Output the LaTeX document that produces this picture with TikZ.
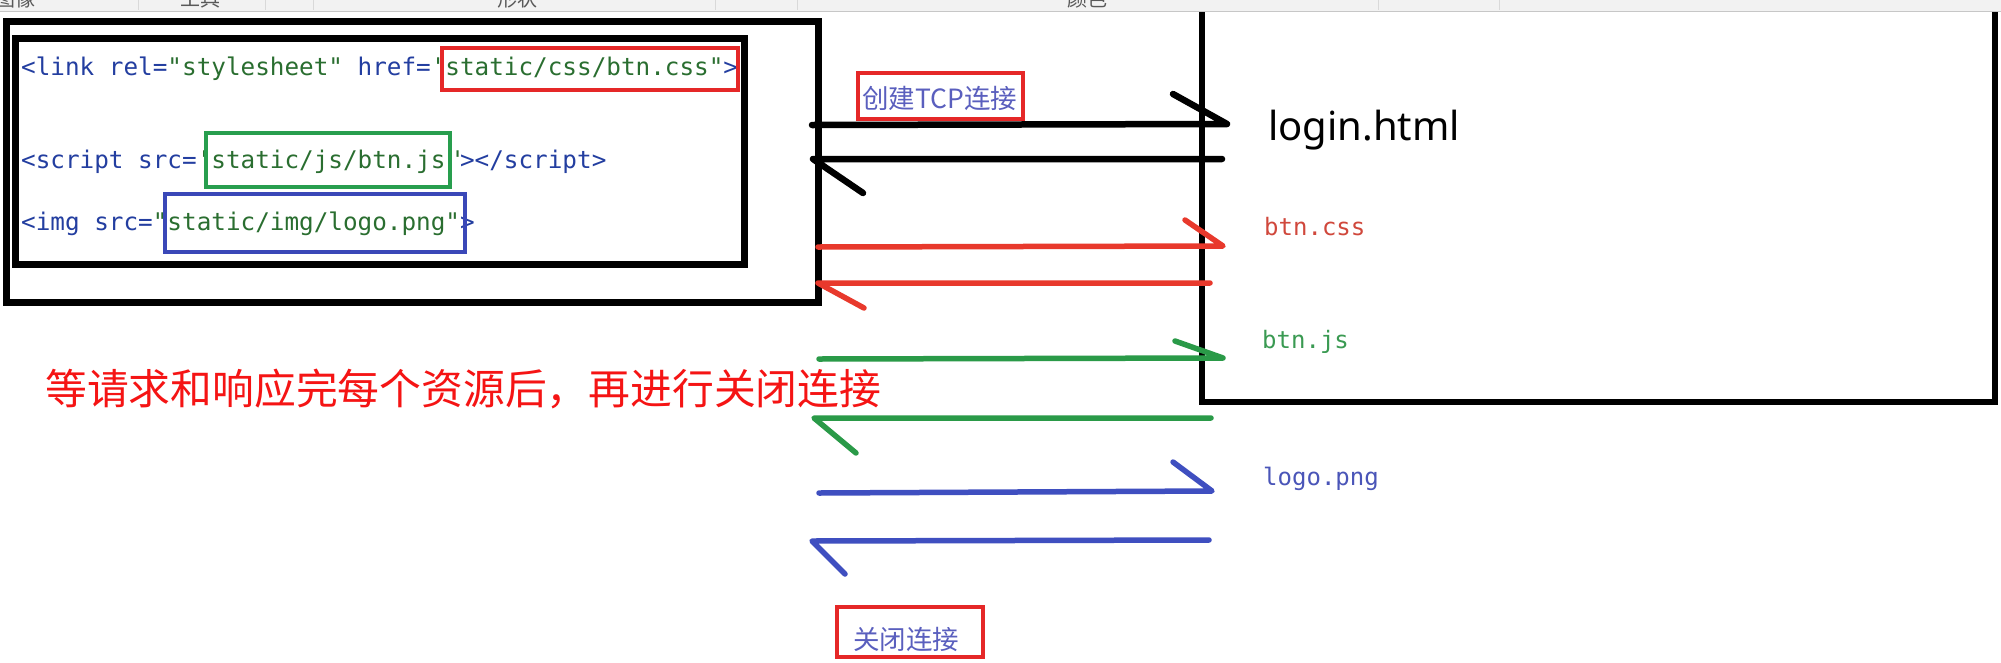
\documentclass[tikz,border=0pt]{standalone}
\usepackage{fontspec}
\setmainfont{Noto Sans}
\newfontfamily\codefont{DejaVu Sans Mono}
\newfontfamily\cjk{Noto Sans CJK SC}
\newfontfamily\uifont{Noto Sans}
\definecolor{codeblue}{RGB}{35,62,160}
\definecolor{codegreen}{RGB}{42,110,48}
\definecolor{hlred}{RGB}{229,40,40}
\definecolor{hlgreen}{RGB}{40,158,78}
\definecolor{hlblue}{RGB}{58,72,184}
\definecolor{arrred}{RGB}{232,57,44}
\definecolor{arrgreen}{RGB}{42,154,72}
\definecolor{arrblue}{RGB}{63,79,192}
\definecolor{labelblue}{RGB}{90,95,190}
\definecolor{bigred}{RGB}{245,20,20}
\definecolor{resred}{RGB}{208,72,60}
\definecolor{resgreen}{RGB}{58,154,82}
\definecolor{resblue}{RGB}{74,85,184}
\newcommand\tb[1]{\textcolor{codeblue}{#1}}
\newcommand\tg[1]{\textcolor{codegreen}{#1}}
\newcommand\dq{\char34\relax}
\newcommand\sq{\char39\relax}
\tikzset{
  codetext/.style={anchor=base west, inner sep=0pt, font=\codefont\fontsize{24.3}{26}\selectfont},
  restext/.style={anchor=base west, inner sep=0pt, font=\codefont\fontsize{24}{26}\selectfont},
  frame/.style={line width=7pt, draw=black},
  hlbox/.style={line width=4.5pt},
  arrowline/.style={line width=5.5pt, line cap=round, line join=round},
  blackarrow/.style={arrowline, line width=6.5pt, draw=black},
  cjklabel/.style={anchor=west, inner sep=0pt, text=labelblue, font=\cjk\fontsize{26.5}{28}\selectfont},
  toolbartext/.style={anchor=base, inner sep=0pt, text=black!65, font=\cjk\fontsize{20}{22}\selectfont},
  sepline/.style={draw=black!15, line width=1pt}
}
\begin{document}
\begin{tikzpicture}[x=1pt,y=-1pt]
\useasboundingbox (0,0) rectangle (2001,662);
\fill[white] (0,0) rectangle (2001,662);
% toolbar strip
\fill[black!5] (0,0) rectangle (2001,11);
\draw[black!22, line width=1pt] (0,11) -- (2001,11);
\foreach \sx in {138,265,313,715,797,1378,1499} \draw[sepline] (\sx,0) -- (\sx,10);
\begin{scope}
  \clip (0,0) rectangle (2001,10.5);
  \node[toolbartext] (tb1) at (15,6) {图像};
  \node[toolbartext] (tb2) at (200,6) {工具};
  \node[toolbartext] (tb3) at (517,6) {形状};
  \node[toolbartext] (tb4) at (1087,6) {颜色};
\end{scope}
% left client frames
\draw[frame] (6.5,21.7) rectangle (818,302);
\draw[frame] (15,38.5) rectangle (744,264);
% code lines
\node[codetext] (line1) at (21,75) {\tb{<link\ rel=}\tg{\dq stylesheet\dq}\tb{\ href=}\tg{\sq static/css/btn.css\dq}\tb{>}};
\node[codetext] (line2) at (21,168) {\tb{<script\ src=}\tg{\sq static/js/btn.js\kern5pt\sq\kern-5pt}\tb{></script>}};
\node[codetext] (line3) at (21,230) {\tb{<img\ src=}\tg{\dq static/img/logo.png\dq}\tb{>}};
% highlight boxes
\draw[hlbox, draw=hlred] (442,48) rectangle (738,90);
\draw[hlbox, draw=hlgreen] (206,133) rectangle (450,187);
\draw[hlbox, draw=hlblue] (165,194) rectangle (465,252);
% server frame
\draw[line width=6pt] (1202,12) -- (1202,402) -- (1995,402) -- (1995,12);
\node[anchor=base west, inner sep=0pt, font=\uifont\fontsize{40}{44}\selectfont] (login) at (1268,140) {login.html};
\node[restext, text=resred] (rcss) at (1264,235) {btn.css};
\node[restext, text=resgreen] (rjs) at (1262,348) {btn.js};
\node[restext, text=resblue] (rpng) at (1263,485) {logo.png};
% labels
\node[cjklabel] (open) at (862,98) {创建TCP连接};
\draw[hlbox, draw=hlred] (858,73) rectangle (1023,119);
\node[cjklabel] (close) at (853,639) {关闭连接};
\draw[hlbox, draw=hlred] (837,607) rectangle (983,657);
\node[anchor=west, inner sep=0pt, text=bigred, font=\cjk\fontsize{41.8}{44}\selectfont] (note) at (45,389) {等请求和响应完每个资源后，再进行关闭连接};
% arrow coordinates
\coordinate (k1a) at (812,125); \coordinate (k1b) at (1227,124); \coordinate (k1h) at (1173,94);
\coordinate (k2a) at (1222,159); \coordinate (k2b) at (813,159); \coordinate (k2h) at (863,193);
\coordinate (r1a) at (818,247); \coordinate (r1b) at (1223,246); \coordinate (r1h) at (1185,220);
\coordinate (r2a) at (1210,283); \coordinate (r2b) at (818,283); \coordinate (r2h) at (864,308);
\coordinate (g1a) at (819,359); \coordinate (g1b) at (1223,358); \coordinate (g1h) at (1175,341);
\coordinate (g2a) at (1211,418); \coordinate (g2b) at (814,418); \coordinate (g2h) at (856,453);
\coordinate (b1a) at (819,493); \coordinate (b1b) at (1212,491); \coordinate (b1h) at (1173,462);
\coordinate (b2a) at (1209,540); \coordinate (b2b) at (812,541); \coordinate (b2h) at (845,574);
% arrows
\draw[blackarrow] (k1a) -- (k1b) -- (k1h);
\draw[blackarrow] (k2a) -- (k2b) -- (k2h);
\draw[arrowline, draw=arrred] (r1a) -- (r1b) -- (r1h);
\draw[arrowline, draw=arrred] (r2a) -- (r2b) -- (r2h);
\draw[arrowline, draw=arrgreen] (g1a) -- (g1b) -- (g1h);
\draw[arrowline, draw=arrgreen] (g2a) -- (g2b) -- (g2h);
\draw[arrowline, draw=arrblue] (b1a) -- (b1b) -- (b1h);
\draw[arrowline, draw=arrblue] (b2a) -- (b2b) -- (b2h);
\end{tikzpicture}
\end{document}
